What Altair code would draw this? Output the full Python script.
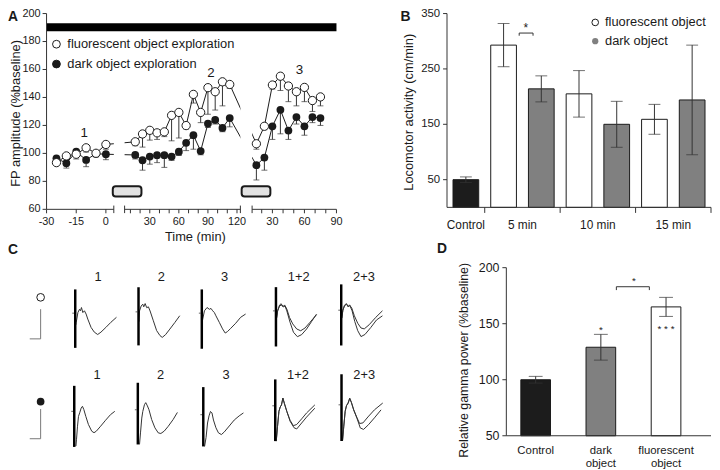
import json
import altair as alt
import pandas as pd

FONT = "Liberation Sans"
INK = "#1a1a1a"
AXC = "#333333"
W, H = 712, 462

# ---------------- Panel A : FP amplitude (%baseline) ----------------
a_seg1_time = [-25, -20, -15, -10, -5, 0]
a_seg1_fluor = [93.4, 98.2, 99.4, 104.0, 100.1, 106.4]
a_seg1_fluor_low = [91.5, 96.0, 96.0, 101.0, 98.0, 103.0]
a_seg1_dark = [96.5, 93.0, 101.2, 95.3, 99.8, 99.4]
a_seg1_dark_low = [94.0, 89.5, 98.0, 90.5, 97.5, 95.5]

a_seg2_time = [15, 22.5, 30, 37.5, 45, 52.5, 60, 67.5, 75, 82.5, 90, 97.5, 105, 112.5]
a_seg2_fluor = [108.3, 113.9, 116.5, 114.7, 115.4, 127.2, 129.3, 119.9, 142.2, 129.3, 147.0, 144.1, 151.2, 149.3]
a_seg2_fluor_low = [105.5, 104.5, 109.5, 110.0, 112.0, 109.0, 111.0, 117.5, 136.0, 122.0, 128.0, 131.0, 134.0, 146.5]
a_seg2_dark = [98.9, 95.1, 97.7, 98.7, 98.7, 97.7, 101.2, 107.6, 113.0, 101.7, 121.3, 123.9, 118.2, 125.3]
a_seg2_dark_low = [96.0, 88.0, 92.3, 93.4, 90.0, 95.0, 98.5, 102.0, 103.0, 99.0, 118.5, 121.0, 115.5, 119.0]

a_seg3_time = [15, 22.5, 30, 37.5, 45, 52.5, 60, 67.5, 75]
a_seg3_fluor = [106.9, 119.4, 148.9, 155.2, 148.2, 144.1, 147.2, 137.8, 140.4]
a_seg3_fluor_low = [103.0, 117.0, 146.0, 145.0, 137.0, 134.0, 137.0, 130.0, 134.0]
a_seg3_dark = [91.6, 97.0, 119.4, 131.2, 116.3, 126.0, 119.4, 126.0, 125.3]
a_seg3_dark_low = [81.0, 88.0, 110.0, 114.0, 110.0, 121.0, 113.0, 122.0, 120.0]

a_axis_segments = [(1, -30, 4), (2, 4, 123.5), (3, 11, 90)]
a_ticks = {1: [-30, -15, 0], 2: list(range(10, 121, 10)), 3: list(range(20, 91, 10))}
a_tick_labels = {1: [-30, -15, 0], 2: [30, 60, 90, 120], 3: [30, 60, 90]}
a_y_ticks = [60, 80, 100, 120, 140, 160, 180, 200]
a_object_boxes = [(2, -8.2, 21.4), (3, 1.2, 28.1)]
a_drug_bar = ((1, -30), (3, 90))
a_session_labels = [(1, -11, 114.7, "1"), (2, 93.2, 157.6, "2"), (3, 55.3, 159.9, "3")]
a_legend = ["fluorescent object exploration", "dark object exploration"]

# ---------------- Panel B : locomotor activity ----------------
b_bar_group = ["Control", "5 min", "5 min", "10 min", "10 min", "15 min", "15 min"]
b_bar_object = ["control", "fluorescent", "dark", "fluorescent", "dark", "fluorescent", "dark"]
b_mean = [50, 293, 214, 205, 150, 159, 194]
b_err = [5, 39, 23.5, 42, 41.5, 27, 99]
b_y_ticks = [50, 150, 250, 350]
b_legend = ["fluorescent object", "dark object"]

# ---------------- Panel D : relative gamma power ----------------
d_names = ["Control", "dark object", "fluorescent object"]
d_object = ["control", "dark", "fluorescent"]
d_mean = [100, 129, 165]
d_err = [3, 11.5, 8.5]
d_y_ticks = [50, 100, 150, 200]

# ---------------- Panel C : field potential traces ----------------
c_titles = ["1", "2", "3", "1+2", "2+3"]
o_1_t = [0.5, 1.0, 2.7, 4.3, 5.3, 6.3, 7.7, 9.3, 11.0, 12.7, 16.0, 19.3, 22.7, 26.0, 31.0, 36.0, 41.7]
o_1_v = [-0.40, -0.31, 0.02, 0.13, 0.08, 0.19, 0.02, 0.08, -0.03, -0.20, -0.48, -0.64, -0.72, -0.64, -0.48, -0.31, -0.14]
o_2_t = [0.5, 1.0, 2.7, 4.3, 5.3, 6.7, 8.3, 10.0, 11.7, 15.0, 18.3, 21.7, 24.0, 27.3, 31.7, 36.7, 41.7]
o_2_v = [-0.33, 0.03, 0.20, 0.26, 0.17, 0.28, 0.14, 0.17, 0.03, -0.30, -0.63, -0.80, -0.86, -0.77, -0.58, -0.36, -0.13]
o_3_t = [0.5, 2.7, 5.3, 7.7, 9.3, 11.0, 12.7, 14.3, 17.7, 21.0, 23.7, 26.0, 29.3, 34.3, 39.3, 44.3]
o_3_v = [-0.27, 0.08, 0.19, 0.13, 0.16, 0.08, 0.02, -0.09, -0.31, -0.53, -0.67, -0.62, -0.51, -0.34, -0.14, -0.03]
o_12a_t = [0.5, 1.7, 3.7, 6.0, 7.7, 9.3, 11.0, 13.7, 17.0, 21.0, 25.0, 29.3, 34.3, 41.0]
o_12a_v = [-0.27, 0.0, 0.17, 0.20, 0.13, 0.17, 0.06, -0.22, -0.44, -0.61, -0.67, -0.58, -0.39, -0.13]
o_12b_t = [0.5, 1.7, 3.7, 5.3, 7.0, 8.7, 11.0, 14.3, 17.7, 21.7, 26.0, 31.0, 36.0, 41.0]
o_12b_v = [-0.27, 0.0, 0.20, 0.24, 0.14, 0.20, 0.0, -0.39, -0.72, -0.87, -0.80, -0.61, -0.36, -0.11]
o_23a_t = [0.5, 1.7, 3.3, 5.3, 7.0, 8.3, 10.7, 13.3, 16.7, 20.0, 23.3, 28.3, 35.0, 41.7]
o_23a_v = [-0.27, 0.0, 0.14, 0.20, 0.12, 0.18, 0.07, -0.19, -0.44, -0.60, -0.63, -0.49, -0.24, -0.02]
o_23b_t = [0.5, 1.7, 3.3, 5.3, 7.3, 8.7, 11.0, 13.7, 16.7, 20.0, 24.0, 30.0, 35.7, 41.7]
o_23b_v = [-0.27, 0.0, 0.17, 0.22, 0.11, 0.16, -0.02, -0.38, -0.69, -0.89, -0.82, -0.58, -0.33, -0.19]

f_1_t = [1.7, 2.3, 3.3, 4.3, 5.7, 7.0, 8.3, 9.7, 11.7, 14.3, 17.7, 20.0, 22.3, 26.7, 31.7, 36.7, 41.0]
f_1_v = [-1.17, -0.94, -0.50, -0.17, -0.03, 0.11, 0.17, 0.06, -0.17, -0.44, -0.67, -0.72, -0.67, -0.50, -0.30, -0.11, 0.0]
f_2_t = [1.7, 2.7, 4.0, 5.0, 6.7, 8.0, 9.7, 11.3, 14.0, 17.3, 20.7, 23.3, 26.7, 30.7, 35.7, 40.0]
f_2_v = [-1.17, -0.78, -0.28, -0.06, 0.17, 0.24, 0.13, 0.0, -0.33, -0.61, -0.78, -0.80, -0.72, -0.56, -0.33, -0.09]
f_3_t = [1.3, 2.8, 4.3, 5.8, 7.3, 8.8, 10.3, 12.8, 15.3, 18.3, 21.3, 26.3, 31.3, 36.3, 40.6]
f_3_v = [-1.07, -0.77, -0.28, -0.04, 0.11, 0.06, -0.18, -0.44, -0.61, -0.67, -0.58, -0.38, -0.18, -0.04, 0.06]
f_12a_t = [1.0, 2.3, 3.7, 5.0, 6.3, 7.7, 9.3, 11.7, 15.0, 18.3, 21.7, 26.7, 31.7, 40.0]
f_12a_v = [-1.19, -0.69, -0.19, -0.04, 0.03, 0.26, 0.07, -0.19, -0.49, -0.67, -0.63, -0.44, -0.24, 0.03]
f_12b_t = [1.0, 2.3, 3.7, 5.0, 6.3, 7.7, 9.3, 11.7, 15.0, 19.0, 21.7, 26.7, 31.7, 40.0]
f_12b_v = [-1.19, -0.69, -0.19, -0.04, 0.03, 0.26, 0.07, -0.19, -0.52, -0.74, -0.78, -0.58, -0.38, -0.08]
f_23a_t = [1.0, 2.3, 3.7, 5.0, 6.7, 8.3, 10.0, 12.3, 15.7, 18.3, 21.7, 26.7, 33.3, 41.7]
f_23a_v = [-1.22, -0.72, -0.22, -0.03, 0.06, 0.22, 0.08, -0.17, -0.44, -0.63, -0.61, -0.41, -0.17, 0.06]
f_23b_t = [1.0, 2.3, 3.7, 5.0, 6.7, 8.3, 10.0, 12.3, 15.7, 19.0, 22.3, 27.3, 33.3, 40.0]
f_23b_v = [-1.22, -0.72, -0.22, -0.03, 0.06, 0.22, 0.08, -0.17, -0.46, -0.78, -0.83, -0.67, -0.44, -0.17]

o_artifact_top = [0.80, 0.83, 0.80, 0.80, 0.87]
o_artifact_bottom = [-1.17, -1.13, -1.20, -1.20, -1.19]
f_artifact_top = [0.86, 0.91, 0.93, 0.89, 1.03]
f_artifact_bottom = [-1.20, -1.17, -1.07, -1.19, -1.22]
c_scalebar = {"ms": [0, 10, 10], "mV": [0, 0, 1]}

# ======================= layout (pixels in the canvas) =======================
A_SEG_MAP = {1: (0.0, 2.0), 2: (15.0, 0.98), 3: (136.0, 1.08)}  # broken time axis


def seg_u(seg, t):
    a, b = A_SEG_MAP[seg]
    return round(a + b * t, 2)


C_X = {"o": [68, 132, 196, 271, 337], "f": [67, 131.3, 197.5, 270.3, 337.3]}
C_Y = {"o": [306, 304.7, 306, 303.7, 303], "f": [405.3, 403.7, 408.7, 399.7, 398.7]}
C_TITLE_Y = {"o": 269, "f": 368.7}
OBJ_FILL = {"control": "#1c1c1c", "fluorescent": "#ffffff", "dark": "#808080"}
TICK = 4


def sc(domain, rng):
    return alt.Scale(domain=domain, range=rng, nice=False, zero=False, padding=0)


def per_px(domain, rng):
    return abs(domain[1] - domain[0]) / abs(rng[1] - rng[0])


def X(f, s):
    return alt.X(f, type="quantitative", scale=s, axis=None)


def Y(f, s):
    return alt.Y(f, type="quantitative", scale=s, axis=None)


def y_axis(xs, ys, x_at, values, vmin, vmax, unit_x, size, pad=3):
    dom = alt.Chart(pd.DataFrame({"x": [x_at], "v0": [vmin], "v1": [vmax]})).mark_rule(
        color=AXC, strokeWidth=1).encode(x=X("x", xs), y=Y("v0", ys), y2="v1")
    dft = pd.DataFrame({"x0": x_at - TICK * unit_x, "x1": x_at, "v": values,
                        "label": [str(v) for v in values]})
    ticks = alt.Chart(dft).mark_rule(color=AXC, strokeWidth=1).encode(
        x=X("x0", xs), x2="x1", y=Y("v", ys))
    labs = alt.Chart(dft).mark_text(align="right", baseline="middle", dx=-(TICK + pad), fontSize=size,
                                    font=FONT, color=INK).encode(x=X("x1", xs), y=Y("v", ys), text="label:N")
    return [dom, ticks, labs]


# ======================= Panel A =======================
xA_dom, xA_rng = [-60, 233], [39, 332]
yA_dom, yA_rng = [60, 200], [201, 3]
xA, yA = sc(xA_dom, xA_rng), sc(yA_dom, yA_rng)
uyA = per_px(yA_dom, yA_rng)
uxA = per_px(xA_dom, xA_rng)

rows = []
for seg, ts, fl, fll, dk, dkl in [
    (1, a_seg1_time, a_seg1_fluor, a_seg1_fluor_low, a_seg1_dark, a_seg1_dark_low),
    (2, a_seg2_time, a_seg2_fluor, a_seg2_fluor_low, a_seg2_dark, a_seg2_dark_low),
    (3, a_seg3_time, a_seg3_fluor, a_seg3_fluor_low, a_seg3_dark, a_seg3_dark_low),
]:
    for t, f1, f2, d1, d2 in zip(ts, fl, fll, dk, dkl):
        rows.append({"series": "fluorescent", "u": seg_u(seg, t), "v": f1, "lo": f2})
        rows.append({"series": "dark", "u": seg_u(seg, t), "v": d1, "lo": d2})
dfA = pd.DataFrame(rows)

df_seg = pd.DataFrame([{"u0": seg_u(s, a), "u1": seg_u(s, b), "v": yA_dom[0]} for s, a, b in a_axis_segments])
gaps = []
for (s0, a0, b0), (s1, a1, b1) in zip(a_axis_segments[:-1], a_axis_segments[1:]):
    gaps.append({"u0": seg_u(s0, b0), "u1": seg_u(s1, a1), "v0": 78, "v1": 172})
df_gap = pd.DataFrame(gaps)
df_break = pd.DataFrame([{"u": g[k], "v0": yA_dom[0] - 3.8 * uyA, "v1": yA_dom[0] + 3.8 * uyA}
                         for g in gaps for k in ("u0", "u1")])
df_box = pd.DataFrame([{"u0": seg_u(s, a), "u1": seg_u(s, b), "v0": 69.2, "v1": 76.5} for s, a, b in a_object_boxes])
df_drug = pd.DataFrame([{"u0": seg_u(*a_drug_bar[0]), "u1": seg_u(*a_drug_bar[1]), "v0": 187.3, "v1": 193.1}])
df_slab = pd.DataFrame([{"u": seg_u(s, t), "v": v, "label": l} for s, t, v, l in a_session_labels])
df_aleg = pd.DataFrame({"u": [seg_u(1, -25)] * 2, "ut": [seg_u(1, -19.5)] * 2,
                        "v": [178.1, 163.9], "label": a_legend})
xt_rows = []
for s, ts in a_ticks.items():
    for t in ts:
        xt_rows.append({"u": seg_u(s, t), "v0": yA_dom[0], "v1": yA_dom[0] - TICK * uyA,
                        "label": str(t) if t in a_tick_labels[s] else ""})
df_xtA = pd.DataFrame(xt_rows)

A_drug = alt.Chart(df_drug).mark_rect(color="#000000").encode(
    x=X("u0", xA), x2="u1", y=Y("v0", yA), y2="v1")
A_lines = alt.Chart(dfA).mark_line(color=INK, strokeWidth=1).encode(
    x=X("u", xA), y=Y("v", yA), detail="series:N", order="u:Q")
A_mask = alt.Chart(df_gap).mark_rect(color="#ffffff").encode(
    x=X("u0", xA), x2="u1", y=Y("v0", yA), y2="v1")
A_boxes = alt.Chart(df_box).mark_rect(fill="#e2e2e2", stroke=INK, strokeWidth=2, cornerRadius=3).encode(
    x=X("u0", xA), x2="u1", y=Y("v0", yA), y2="v1")
A_xdom = alt.Chart(df_seg).mark_rule(color=AXC, strokeWidth=1).encode(
    x=X("u0", xA), x2="u1", y=Y("v", yA))
A_xticks = alt.Chart(df_xtA).mark_rule(color=AXC, strokeWidth=1).encode(
    x=X("u", xA), y=Y("v0", yA), y2="v1")
A_xlabels = alt.Chart(df_xtA).mark_text(baseline="middle", align="center", dy=12.5, fontSize=11,
                                        font=FONT, color=INK).encode(x=X("u", xA), y=Y("v0", yA), text="label:N")
A_breaks = alt.Chart(df_break).mark_rule(color=AXC, strokeWidth=1).encode(
    x=X("u", xA), y=Y("v0", yA), y2="v1")
A_err = alt.Chart(dfA).mark_rule(color=AXC, strokeWidth=1).encode(
    x=X("u", xA), y=Y("v", yA), y2="lo")
A_caps = alt.Chart(dfA).mark_tick(orient="horizontal", size=6, thickness=1, color=AXC).encode(
    x=X("u", xA), y=Y("lo", yA))
A_dark = alt.Chart(dfA).transform_filter("datum.series == 'dark'").mark_circle(
    size=62, color=INK, opacity=1).encode(x=X("u", xA), y=Y("v", yA))
A_open = alt.Chart(dfA).transform_filter("datum.series == 'fluorescent'").mark_circle(
    size=70, fill="#ffffff", stroke=INK, strokeWidth=1, opacity=1).encode(x=X("u", xA), y=Y("v", yA))
A_leg_sym = alt.Chart(df_aleg).mark_circle(size=62, stroke=INK, strokeWidth=1, opacity=1).encode(
    x=X("u", xA), y=Y("v", yA),
    fill=alt.Fill("label:N", scale=alt.Scale(domain=a_legend, range=["#ffffff", INK]), legend=None))
A_leg_txt = alt.Chart(df_aleg).mark_text(align="left", baseline="middle", fontSize=13, font=FONT,
                                         color=INK).encode(x=X("ut", xA), y=Y("v", yA), text="label:N")
A_slab = alt.Chart(df_slab).mark_text(align="center", baseline="middle", fontSize=13.5, font=FONT,
                                      color=INK).encode(x=X("u", xA), y=Y("v", yA), text="label:N")
A_yaxis = y_axis(xA, yA, xA_dom[0], a_y_ticks, yA_dom[0], yA_dom[1], uxA, 11, pad=2)

panelA = alt.layer(A_drug, A_lines, A_mask, A_boxes, A_xdom, A_xticks, A_xlabels, A_breaks, *A_yaxis,
                   A_err, A_caps, A_dark, A_open, A_leg_sym, A_leg_txt, A_slab)

# ======================= Panel B =======================
xB_dom, xB_rng = [-0.5, 6.5], [444, 711]
yB_dom, yB_rng = [0, 350], [199, 3]
xB, yB = sc(xB_dom, xB_rng), sc(yB_dom, yB_rng)
uxB, uyB = per_px(xB_dom, xB_rng), per_px(yB_dom, yB_rng)
dfB = pd.DataFrame({"idx": list(range(len(b_mean))), "group": b_bar_group, "object": b_bar_object,
                    "mean": b_mean, "err": b_err})
dfB["lo"] = dfB["mean"] - dfB["err"]
dfB["hi"] = dfB["mean"] + dfB["err"]
dfB["fill"] = dfB["object"].map(OBJ_FILL)
groups = list(dict.fromkeys(b_bar_group))
df_bgrp = pd.DataFrame({
    "label": groups,
    "pos": [float(dfB.loc[dfB.group == g, "idx"].mean()) for g in groups],
    "bound": [float(dfB.loc[dfB.group == g, "idx"].max()) + 0.5 for g in groups],
    "v0": yB_dom[0], "v1": yB_dom[0] - 10,
})

B_bars = alt.Chart(dfB).mark_bar(size=26, stroke=INK, strokeWidth=1).encode(
    x=X("idx", xB), y=Y("mean", yB), y2=alt.datum(0), fill=alt.Fill("fill:N", scale=None))
B_err = alt.Chart(dfB).mark_rule(color=AXC, strokeWidth=1).encode(x=X("idx", xB), y=Y("lo", yB), y2="hi")
dfBc = pd.concat([dfB[["idx", "lo"]].rename(columns={"lo": "v"}), dfB[["idx", "hi"]].rename(columns={"hi": "v"})])
B_caps = alt.Chart(dfBc).mark_tick(orient="horizontal", size=12, thickness=1, color=AXC).encode(
    x=X("idx", xB), y=Y("v", yB))
B_xdom = alt.Chart(pd.DataFrame({"x0": [xB_dom[0]], "x1": [xB_dom[1]], "v": [yB_dom[0]]})).mark_rule(
    color=AXC, strokeWidth=1).encode(x=X("x0", xB), x2="x1", y=Y("v", yB))
B_gticks = alt.Chart(df_bgrp).mark_rule(color=AXC, strokeWidth=1).encode(
    x=X("bound", xB), y=Y("v0", yB), y2="v1")
B_glabels = alt.Chart(df_bgrp).mark_text(baseline="middle", align="center", dy=18, fontSize=12,
                                         font=FONT, color=INK).encode(x=X("pos", xB), y=Y("v0", yB), text="label:N")
B_yaxis = y_axis(xB, yB, xB_dom[0], b_y_ticks, yB_dom[0], yB_dom[1], uxB, 11.5)
B_bracket = alt.Chart(pd.DataFrame({"x0": [1.414, 1.414, 1.781], "x1": [1.781, 1.414, 1.781],
                                    "y0": [314.8, 314.8, 314.8], "y1": [314.8, 310.0, 310.0]})).mark_rule(
    color=AXC, strokeWidth=1).encode(x=X("x0", xB), x2="x1", y=Y("y0", yB), y2="y1")
B_star = alt.Chart(pd.DataFrame({"x": [1.59], "y": [316.3], "t": ["*"]})).mark_text(
    fontSize=12, font=FONT, baseline="alphabetic", color=INK).encode(x=X("x", xB), y=Y("y", yB), text="t:N")
df_bleg = pd.DataFrame({"x": [3.43, 3.43], "xt": [3.69, 3.69], "y": [334, 300], "label": b_legend})
B_leg_open = alt.Chart(df_bleg.iloc[[0]]).mark_circle(size=45, fill="#ffffff", stroke=INK, strokeWidth=1,
                                                     opacity=1).encode(x=X("x", xB), y=Y("y", yB))
B_leg_dark = alt.Chart(df_bleg.iloc[[1]]).mark_circle(size=40, color="#808080", opacity=1).encode(
    x=X("x", xB), y=Y("y", yB))
B_leg_txt = alt.Chart(df_bleg).mark_text(align="left", baseline="middle", fontSize=13, font=FONT,
                                         color=INK).encode(x=X("xt", xB), y=Y("y", yB), text="label:N")
panelB = alt.layer(B_bars, B_err, B_caps, B_xdom, B_gticks, B_glabels, *B_yaxis, B_bracket, B_star,
                   B_leg_open, B_leg_dark, B_leg_txt)

# ======================= Panel D =======================
xD_dom, xD_rng = [-0.45, 2.69], [504, 711]
yD_dom, yD_rng = [50, 200], [430, 260]
xD, yD = sc(xD_dom, xD_rng), sc(yD_dom, yD_rng)
uxD = per_px(xD_dom, xD_rng)
dfD = pd.DataFrame({"idx": list(range(len(d_mean))), "name": d_names, "object": d_object,
                    "mean": d_mean, "err": d_err})
dfD["lo"] = dfD["mean"] - dfD["err"]
dfD["hi"] = dfD["mean"] + dfD["err"]
dfD["fill"] = dfD["object"].map(OBJ_FILL)
dfD["base"] = yD_dom[0]
dfD["line1"] = [n.split(" ", 1)[0] for n in d_names]
dfD["line2"] = [n.split(" ", 1)[1] if " " in n else "" for n in d_names]
D_bars = alt.Chart(dfD).mark_bar(size=30, stroke=INK, strokeWidth=1).encode(
    x=X("idx", xD), y=Y("mean", yD), y2="base", fill=alt.Fill("fill:N", scale=None))
D_err = alt.Chart(dfD).mark_rule(color=AXC, strokeWidth=1).encode(x=X("idx", xD), y=Y("lo", yD), y2="hi")
dfDc = pd.concat([dfD[["idx", "lo"]].rename(columns={"lo": "v"}), dfD[["idx", "hi"]].rename(columns={"hi": "v"})])
D_caps = alt.Chart(dfDc).mark_tick(orient="horizontal", size=14, thickness=1, color=AXC).encode(
    x=X("idx", xD), y=Y("v", yD))
D_xdom = alt.Chart(pd.DataFrame({"x0": [xD_dom[0]], "x1": [xD_dom[1]], "v": [yD_dom[0]]})).mark_rule(
    color=AXC, strokeWidth=1).encode(x=X("x0", xD), x2="x1", y=Y("v", yD))
D_xlab1 = alt.Chart(dfD).mark_text(baseline="middle", align="center", dy=15.5, fontSize=11.5,
                                   font=FONT, color=INK).encode(x=X("idx", xD), y=Y("base", yD), text="line1:N")
D_xlab2 = alt.Chart(dfD).mark_text(baseline="middle", align="center", dy=29, fontSize=11.5,
                                   font=FONT, color=INK).encode(x=X("idx", xD), y=Y("base", yD), text="line2:N")
D_yaxis = y_axis(xD, yD, xD_dom[0], d_y_ticks, yD_dom[0], yD_dom[1], uxD, 12.5)
D_bracket = alt.Chart(pd.DataFrame({"x0": [1.238, 1.238, 1.744], "x1": [1.744, 1.238, 1.744],
                                    "y0": [183, 183, 183], "y1": [183, 180, 180]})).mark_rule(
    color=AXC, strokeWidth=1).encode(x=X("x0", xD), x2="x1", y=Y("y0", yD), y2="y1")
D_stars = alt.Chart(pd.DataFrame({"x": [1, 2, 1.507], "y": [141.8, 142.9, 185.6],
                                  "t": ["*", "* * *", "*"]})).mark_text(
    fontSize=10, font=FONT, baseline="alphabetic", color=INK).encode(x=X("x", xD), y=Y("y", yD), text="t:N")
panelD = alt.layer(D_bars, D_err, D_caps, D_xdom, D_xlab1, D_xlab2, *D_yaxis, D_bracket, D_stars)

# ======================= Panel C =======================
sweeps = {
    "o": [[(o_1_t, o_1_v)], [(o_2_t, o_2_v)], [(o_3_t, o_3_v)],
          [(o_12a_t, o_12a_v), (o_12b_t, o_12b_v)], [(o_23a_t, o_23a_v), (o_23b_t, o_23b_v)]],
    "f": [[(f_1_t, f_1_v)], [(f_2_t, f_2_v)], [(f_3_t, f_3_v)],
          [(f_12a_t, f_12a_v), (f_12b_t, f_12b_v)], [(f_23a_t, f_23a_v), (f_23b_t, f_23b_v)]],
}
artifacts = {"o": (o_artifact_top, o_artifact_bottom), "f": (f_artifact_top, f_artifact_bottom)}

c_layers = []
for row in ("o", "f"):
    for i, title in enumerate(c_titles):
        ax, base = C_X[row][i], C_Y[row][i]
        xs = sc([0, 40], [ax, ax + 40])
        ys = sc([0, 1], [base, base - 30])
        recs = []
        for k, (ts, vs) in enumerate(sweeps[row][i]):
            for j, (t, v) in enumerate(zip(ts, vs)):
                recs.append({"sweep": k, "t": t, "v": v, "o": j})
        dft = pd.DataFrame(recs)
        top, bot = artifacts[row]
        tr = alt.Chart(dft).mark_line(color="#333333", strokeWidth=1).encode(
            x=X("t", xs), y=Y("v", ys), detail="sweep:N", order="o:Q")
        art = alt.Chart(pd.DataFrame({"t": [0], "v0": [bot[i]], "v1": [top[i]]})).mark_rule(
            color="#000000", strokeWidth=2.5).encode(x=X("t", xs), y=Y("v0", ys), y2="v1")
        bl = alt.Chart(pd.DataFrame({"t0": [-3.0], "t1": [-1.2], "v": [0]})).mark_rule(
            color="#666666", strokeWidth=1).encode(x=X("t0", xs), x2="t1", y=Y("v", ys))
        ttl = alt.Chart(pd.DataFrame({"t": [23], "label": [title]})).mark_text(
            fontSize=13, font=FONT, baseline="middle", align="center", color=INK).encode(
            x=X("t", xs), y=alt.value(C_TITLE_Y[row]), text="label:N")
        c_layers.append(alt.layer(bl, tr, art, ttl))

# scale bars with row symbols
for row, rng, sym_v in (("o", [332, 302], 1.4), ("f", [433, 403], 1.25)):
    xs = sc([0, 10], [22, 33])
    ys = sc([0, 1], rng)
    dfs = pd.DataFrame({"ms": c_scalebar["ms"], "mV": c_scalebar["mV"], "o": [0, 1, 2]})
    bar = alt.Chart(dfs).mark_line(color="#777777", strokeWidth=1).encode(
        x=X("ms", xs), y=Y("mV", ys), order="o:Q")
    if row == "o":
        sym = alt.Chart(pd.DataFrame({"ms": [10], "mV": [sym_v]})).mark_circle(
            size=60, fill="#ffffff", stroke=INK, strokeWidth=1, opacity=1).encode(x=X("ms", xs), y=Y("mV", ys))
    else:
        sym = alt.Chart(pd.DataFrame({"ms": [10], "mV": [sym_v]})).mark_circle(
            size=60, color=INK, opacity=1).encode(x=X("ms", xs), y=Y("mV", ys))
    c_layers.append(alt.layer(bar, sym))


# ======================= free text (panel letters, axis titles) =======================
def label(text, x, y, size, weight="normal", angle=0, align="center", baseline="middle"):
    return alt.Chart(pd.DataFrame({"t": [text]})).mark_text(
        fontSize=size, fontWeight=weight, angle=angle, align=align, baseline=baseline,
        font=FONT, color=INK).encode(x=alt.value(x), y=alt.value(y), text="t:N")


texts = [
    label("A", 0, 0, 14, "bold", align="left", baseline="top"),
    label("B", 397, 0, 14, "bold", align="left", baseline="top"),
    label("C", 0, 235, 14, "bold", align="left", baseline="top"),
    label("D", 434, 234, 14, "bold", align="left", baseline="top"),
    label("FP amplitude (%baseline)", 8, 104, 13, angle=270),
    label("Locomotor activity (cm/min)", 405.5, 102.8, 13, angle=270),
    label("Relative gamma power (%baseline)", 461, 353.7, 12.5, angle=270),
    label("Time (min)", 189.5, 228.7, 13),
]

chart = alt.layer(panelA, panelB, panelD, *c_layers, *texts).resolve_scale(
    x="independent", y="independent"
).properties(
    width=W, height=H, padding=0, autosize=alt.AutoSizeParams(type="none")
).configure_view(strokeWidth=0).configure_text(font=FONT)

chart.save("out.html", embed_options={"renderer": "svg", "actions": False})
